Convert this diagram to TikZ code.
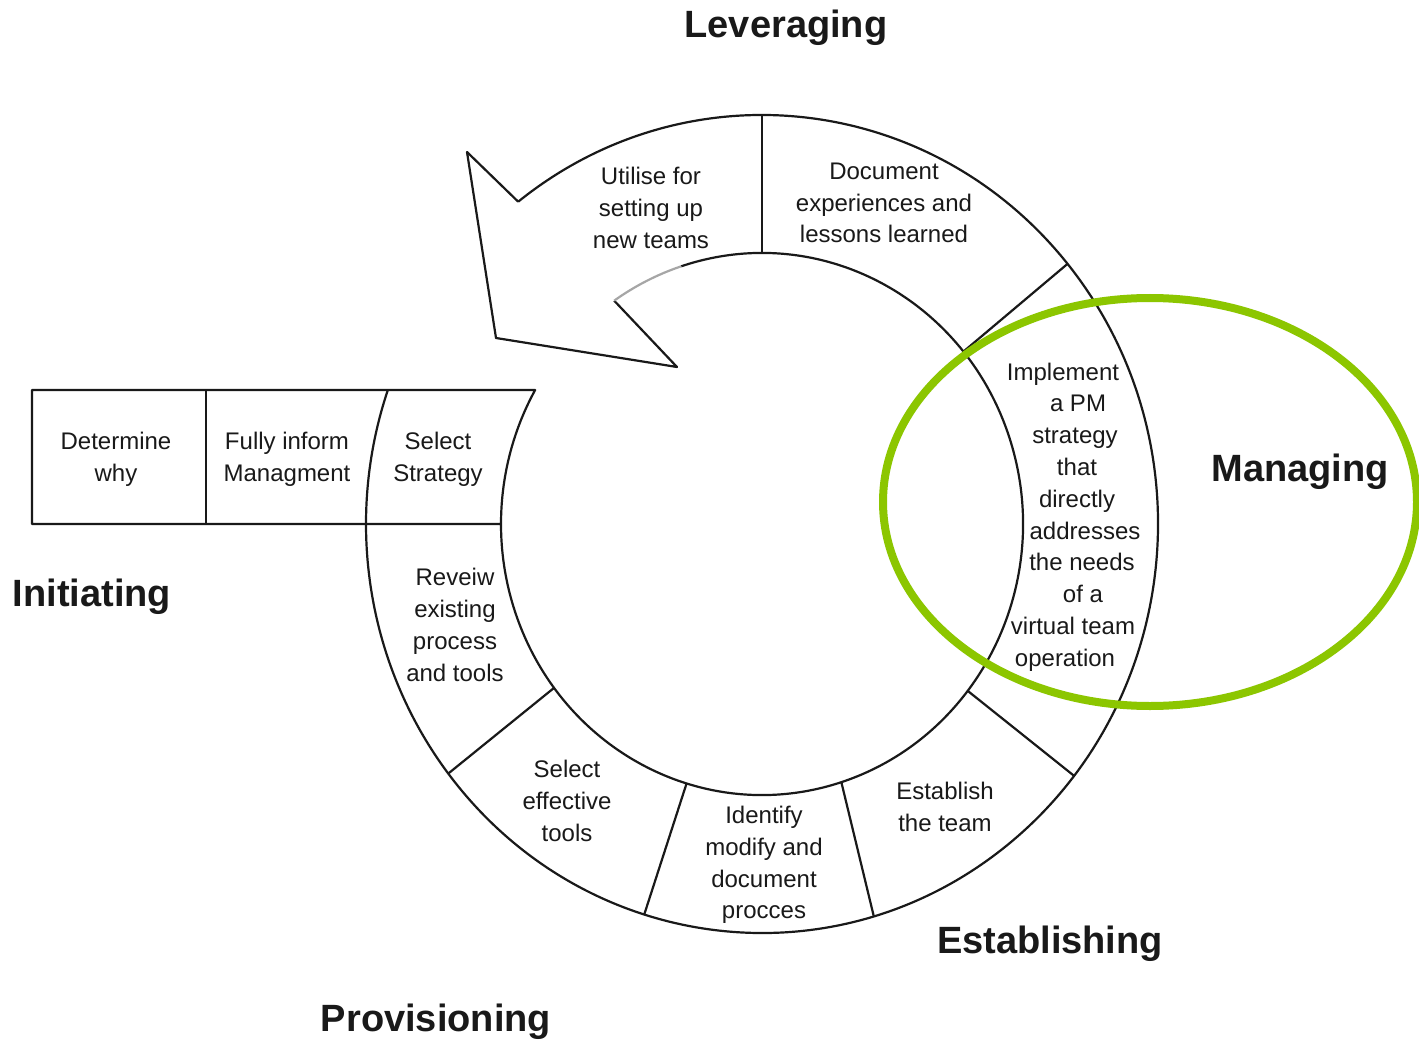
\documentclass[tikz,border=0pt]{standalone}
\usepackage{fontspec}
\setmainfont{Liberation Sans}
\definecolor{mgreen}{RGB}{140,198,0}
\definecolor{ink}{RGB}{25,25,25}
\begin{document}
\begin{tikzpicture}[x=0.5pt,y=-0.5pt,line join=round,
  ring/.style={line width=1.1pt,draw=ink},
  faint/.style={line width=1.1pt,draw=black!35},
  cell/.style={font=\fontsize{12}{15.9}\selectfont,align=center,inner sep=0pt,text=ink},
  phase/.style={font=\bfseries\fontsize{19}{23}\selectfont,inner sep=0pt,text=ink}]
\useasboundingbox[fill=white] (0,0) rectangle (1419,1043);
\coordinate (c) at (762,524);
% outer arc
\draw[ring] (c) ++(-128:396 and 409) coordinate (onotch)
  arc[start angle=-128,end angle=199.13,x radius=396,y radius=409];
% arrow head
\draw[ring] (onotch) -- (467,152) -- (496,338) -- (677,367)
  -- ([shift={(c)}]-124.5:261 and 271) coordinate (inotch);
\draw[faint] (inotch) arc[start angle=-124.5,end angle=-108,x radius=261,y radius=271];
% inner arc and left box
\draw[ring] ([shift={(c)}]-108:261 and 271)
  arc[start angle=-108,end angle=209.63,x radius=261,y radius=271]
  -- (32,390) -- (32,524) -- ([shift={(c)}]180:261 and 271);
\draw[ring] (206,390) -- (206,524);
% radial dividers
\draw[ring] ([shift={(c)}]-90:261 and 271) -- ([shift={(c)}]-90:396 and 409);
\draw[ring] ([shift={(c)}]-39.5:261 and 271) -- ([shift={(c)}]-39.5:396 and 409);
\draw[ring] ([shift={(c)}]38:261 and 271) -- ([shift={(c)}]38:396 and 409);
\draw[ring] ([shift={(c)}]72.3:261 and 271) -- ([shift={(c)}]73.6:396 and 409);
\draw[ring] ([shift={(c)}]106.8:261 and 271) -- ([shift={(c)}]107.3:396 and 409);
\draw[ring] ([shift={(c)}]142.8:261 and 271) -- ([shift={(c)}]142.4:396 and 409);
% green ellipse
\draw[line width=4pt,draw=mgreen] (1150,502) ellipse [x radius=267,y radius=204];
% cell texts
\node[cell] (utilise) at (651,208) {Utilise for\\setting up\\new teams};
\node[cell] (document) at (884,203) {Document\\experiences and\\lessons learned};
\node[cell] (determine) at (116,459) {Determine\\why};
\node[cell] (inform) at (287,459) {Fully inform\\Managment};
\node[cell] (strategy) at (438,459) {Select\\Strategy};
\node[cell] (review) at (455,625) {Reveiw\\existing\\process\\and tools};
\node[cell] (tools) at (567,801) {Select\\effective\\tools};
\node[cell] (identify) at (764,865) {Identify\\modify and\\document\\procces};
\node[cell] (team) at (945,807) {Establish\\the team};
\node[cell] (implement) at (1075,517) {\hspace*{-12pt}Implement\\\hspace*{3pt}a PM\\strategy\\\hspace*{2pt}that\\\hspace*{2pt}directly\\\hspace*{10pt}addresses\\\hspace*{7pt}the needs\\\hspace*{8pt}of a\\\hspace*{-2pt}virtual team\\\hspace*{-10pt}operation};
% phase labels
\node[phase] (lev) at (786,28) {Leveraging};
\node[phase] (man) at (1300,472) {Managing};
\node[phase] (ini) at (92,597) {Initiating};
\node[phase] (est) at (1050,944) {Establishing};
\node[phase] (pro) at (436,1022) {Provisioning};
\end{tikzpicture}
\end{document}
